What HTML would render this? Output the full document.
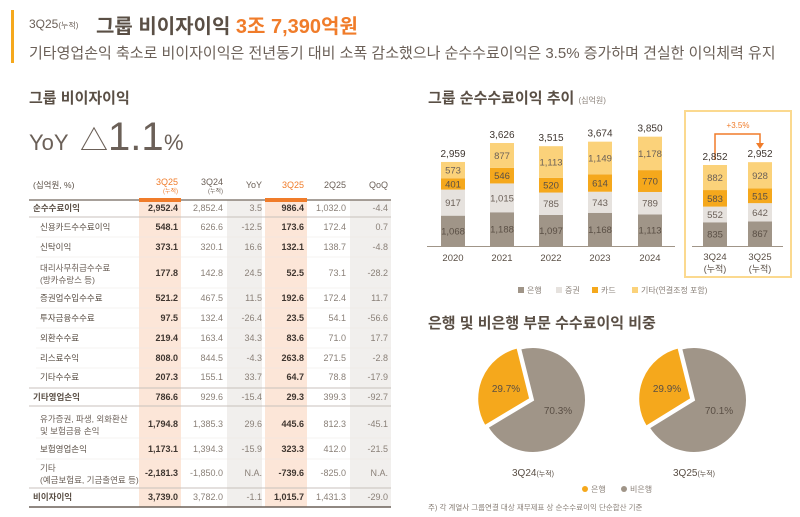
<!DOCTYPE html>
<html><head><meta charset="utf-8"><style>
html,body{margin:0;padding:0;background:#fff;}
svg{display:block;font-family:"Liberation Sans","Noto Sans CJK KR",sans-serif;}
</style></head><body>
<svg id="s" width="800" height="517" viewBox="0 0 800 517" xmlns="http://www.w3.org/2000/svg">
<rect x="11" y="10" width="3" height="53" fill="#f5a81c"/>
<text x="29" y="28" font-size="12" fill="#6b6058">3Q25<tspan font-size="8">(누적)</tspan></text>
<text x="96" y="33" font-size="20" font-weight="bold" fill="#5a4f45">그룹 비이자이익 <tspan fill="#f07c2a">3조 7,390억원</tspan></text>
<text x="29" y="58" font-size="15" fill="#6b6058">기타영업손익 축소로 비이자이익은 전년동기 대비 소폭 감소했으나 순수수료이익은 3.5% 증가하며 견실한 이익체력 유지</text>
<text x="29" y="103" font-size="15" font-weight="bold" fill="#5a4f45">그룹 비이자이익</text>
<text x="29" y="150" font-size="22" fill="#6b6058">YoY</text>
<text x="80" y="150" font-size="28" fill="#6b6058">△</text>
<text x="108" y="150" font-size="40" fill="#6b6058">1.1</text>
<text x="164" y="150" font-size="22" fill="#6b6058">%</text>
<g id="tbl"></g>
<text x="428" y="103" font-size="15" font-weight="bold" fill="#5a4f45">그룹 순수수료이익 추이 <tspan font-size="8" font-weight="normal" fill="#8a8078">(십억원)</tspan></text>
<rect x="685" y="111" width="106" height="166" fill="#fff" stroke="#fbd98f" stroke-width="2"/>
<line x1="427" y1="246.5" x2="675" y2="246.5" stroke="#a09588" stroke-width="1"/>
<line x1="692" y1="246.5" x2="783" y2="246.5" stroke="#a09588" stroke-width="1"/>
<path d="M715 160 V134 H760 V144" fill="none" stroke="#f07c2a" stroke-width="1.5"/>
<path d="M756 143 L764 143 L760 149 Z" fill="#f07c2a"/>
<text x="738" y="128" font-size="8" fill="#f07c2a" text-anchor="middle">+3.5%</text>
<g id="bars"></g>
<g font-size="8" fill="#8a8078">
<rect x="518" y="287" width="6" height="6" fill="#a09588"/><text x="527" y="293">은행</text>
<rect x="556" y="287" width="6" height="6" fill="#e6e2de"/><text x="565" y="293">증권</text>
<rect x="592" y="287" width="6" height="6" fill="#f5a81c"/><text x="601" y="293">카드</text>
<rect x="632" y="287" width="6" height="6" fill="#fbd27a"/><text x="641" y="293">기타(연결조정 포함)</text>
</g>
<text x="428" y="328" font-size="15" font-weight="bold" fill="#5a4f45">은행 및 비은행 부문 수수료이익 비중</text>
<g id="pies"></g>
<text x="533" y="476" font-size="10" fill="#5a4f45" text-anchor="middle">3Q24<tspan font-size="7">(누적)</tspan></text>
<text x="694" y="476" font-size="10" fill="#5a4f45" text-anchor="middle">3Q25<tspan font-size="7">(누적)</tspan></text>
<circle cx="585" cy="489" r="3" fill="#f5a81c"/><text x="591" y="492" font-size="8" fill="#8a8078">은행</text>
<circle cx="624" cy="489" r="3" fill="#a09588"/><text x="630" y="492" font-size="8" fill="#8a8078">비은행</text>
<text x="428" y="510" font-size="7.5" fill="#8a8078">주) 각 계열사 그룹연결 대상 재무제표 상 순수수료이익 단순합산 기준</text>
</svg>
<script>
const NS="http://www.w3.org/2000/svg";
function el(p,t,a,txt){const e=document.createElementNS(NS,t);for(const k in a)e.setAttribute(k,a[k]);if(txt!==undefined)e.textContent=txt;p.appendChild(e);return e;}
const B=document.getElementById('bars');const k=0.0284,base=246;
const cols=['#a09588','#e6e2de','#f5a81c','#fbd27a'];
const tc=['#5a4f45','#6b6058','#5a4f45','#6b6058'];
const data=[[453,'2020',[1068,917,401,573],'2,959'],[502,'2021',[1188,1015,546,877],'3,626'],[551,'2022',[1097,785,520,1113],'3,515'],[600,'2023',[1168,743,614,1149],'3,674'],[650,'2024',[1113,789,770,1178],'3,850'],[715,'3Q24',[835,552,583,882],'2,852'],[760,'3Q25',[867,642,515,928],'2,952']];
data.forEach(d=>{let y=base;const w=24;d[2].forEach((v,i)=>{const h=v*k;y-=h;el(B,'rect',{x:d[0]-w/2,y:y,width:w,height:h,fill:cols[i]});el(B,'text',{x:d[0],y:y+h/2+3.5,'font-size':9.5,fill:tc[i],'text-anchor':'middle'},v.toLocaleString('en-US'));});
el(B,'text',{x:d[0],y:y-5,'font-size':10,fill:'#3f3630','text-anchor':'middle'},d[3]);
if(d[1].startsWith('3Q')){el(B,'text',{x:d[0],y:260,'font-size':9.5,fill:'#5a4f45','text-anchor':'middle'},d[1]);el(B,'text',{x:d[0],y:272,'font-size':9,fill:'#5a4f45','text-anchor':'middle'},'(누적)');}
else el(B,'text',{x:d[0],y:261,'font-size':9.5,fill:'#5a4f45','text-anchor':'middle'},d[1]);});
const P=document.getElementById('pies');
function pt(cx,cy,r,a){const t=a*Math.PI/180;return [cx+r*Math.sin(t),cy-r*Math.cos(t)];}
function pie(cx,cy,bank,lb,lo){const r=53;const a0=346,a1=346-bank*3.6;
let p1=pt(cx,cy,r,a0),p2=pt(cx,cy,r,a1+360);
el(P,'path',{d:`M${cx} ${cy} L${p1[0]} ${p1[1]} A${r} ${r} 0 1 1 ${p2[0]} ${p2[1]} Z`,fill:'#a09588',stroke:'#fff','stroke-width':2});
const mid=(a0+a1)/2;const o=pt(0,0,3,mid);const c2=[cx+o[0],cy+o[1]];
let q1=pt(c2[0],c2[1],r,a1),q2=pt(c2[0],c2[1],r,a0);
el(P,'path',{d:`M${c2[0]} ${c2[1]} L${q1[0]} ${q1[1]} A${r} ${r} 0 0 1 ${q2[0]} ${q2[1]} Z`,fill:'#f5a81c',stroke:'#fff','stroke-width':2});
el(P,'text',{x:cx-27,y:cy-8,'font-size':10,fill:'#5a4f45','text-anchor':'middle'},lb);
el(P,'text',{x:cx+25,y:cy+14,'font-size':10,fill:'#5a4f45','text-anchor':'middle'},lo);}
pie(533,400,29.7,'29.7%','70.3%');pie(694,400,29.9,'29.9%','70.1%');
const T=document.getElementById('tbl');
el(T,'rect',{x:139,y:200,width:42,height:307,fill:'#fce6d8'});
el(T,'rect',{x:227,y:200,width:35,height:307,fill:'#f1efed'});
el(T,'rect',{x:265,y:200,width:42,height:307,fill:'#fce6d8'});
el(T,'rect',{x:350,y:200,width:41,height:307,fill:'#f1efed'});
el(T,'line',{x1:29,y1:200,x2:391,y2:200,stroke:'#8a8078','stroke-width':1.5});
el(T,'rect',{x:139,y:198,width:42,height:4,fill:'#f07c2a'});
el(T,'rect',{x:265,y:198,width:42,height:4,fill:'#f07c2a'});
el(T,'text',{x:33,y:188,'font-size':8.5,fill:'#5a4f45'},'(십억원, %)');
el(T,'text',{x:178,y:185,'font-size':9,fill:'#f07c2a','text-anchor':'end'},'3Q25');
el(T,'text',{x:178,y:193,'font-size':6,fill:'#f07c2a','text-anchor':'end'},'(누적)');
el(T,'text',{x:223,y:185,'font-size':9,fill:'#6b6058','text-anchor':'end'},'3Q24');
el(T,'text',{x:223,y:193,'font-size':6,fill:'#6b6058','text-anchor':'end'},'(누적)');
el(T,'text',{x:262,y:188,'font-size':9,fill:'#6b6058','text-anchor':'end'},'YoY');
el(T,'text',{x:304,y:188,'font-size':9,fill:'#f07c2a','text-anchor':'end'},'3Q25');
el(T,'text',{x:346,y:188,'font-size':9,fill:'#6b6058','text-anchor':'end'},'2Q25');
el(T,'text',{x:388,y:188,'font-size':9,fill:'#6b6058','text-anchor':'end'},'QoQ');
const rows=[
[208,1,['순수수료이익'],'2,952.4','2,852.4','3.5','986.4','1,032.0','-4.4',217,1],
[227,0,['신용카드수수료이익'],'548.1','626.6','-12.5','173.6','172.4','0.7',237],
[247,0,['신탁이익'],'373.1','320.1','16.6','132.1','138.7','-4.8',257],
[273,0,['대리사무취급수수료','(방카슈랑스 등)'],'177.8','142.8','24.5','52.5','73.1','-28.2',288],
[298,0,['증권업수입수수료'],'521.2','467.5','11.5','192.6','172.4','11.7',308],
[318,0,['투자금융수수료'],'97.5','132.4','-26.4','23.5','54.1','-56.6',328],
[338,0,['외환수수료'],'219.4','163.4','34.3','83.6','71.0','17.7',348],
[358,0,['리스료수익'],'808.0','844.5','-4.3','263.8','271.5','-2.8',368],
[377,0,['기타수수료'],'207.3','155.1','33.7','64.7','78.8','-17.9',388,1],
[397,1,['기타영업손익'],'786.6','929.6','-15.4','29.3','399.3','-92.7',406,1],
[424,0,['유가증권, 파생, 외화환산','및 보험금융 손익'],'1,794.8','1,385.3','29.6','445.6','812.3','-45.1',438],
[449,0,['보험영업손익'],'1,173.1','1,394.3','-15.9','323.3','412.0','-21.5',459],
[473,0,['기타','(예금보험료, 기금출연료 등)'],'-2,181.3','-1,850.0','N.A.','-739.6','-825.0','N.A.',488,1],
[497,1,['비이자이익'],'3,739.0','3,782.0','-1.1','1,015.7','1,431.3','-29.0',507,2]];
rows.forEach(r=>{const y=r[0]+3;const lx=r[1]?33:40;
if(r[2].length==1)el(T,'text',{x:lx,y:y,'font-size':8.5,fill:'#5a4f45','font-weight':r[1]?'bold':'normal'},r[2][0]);
else{el(T,'text',{x:lx,y:y-5,'font-size':8.5,fill:'#6b6058'},r[2][0]);el(T,'text',{x:lx,y:y+7,'font-size':8.5,fill:'#6b6058'},r[2][1]);}
const xs=[178,223,262,304,346,388];
for(let i=0;i<6;i++){el(T,'text',{x:xs[i],y:y,'font-size':9,'text-anchor':'end',fill:(i==0||i==3)?'#3f3630':'#8a8078','font-weight':(i==0||i==3)?'bold':'normal'},r[3+i]);}
const lw=r[10]==2?1.5:(r[10]?1:0.6);const lc=r[10]==2?'#6b6058':(r[10]?'#c8c2bc':'#ece8e4');
el(T,'line',{x1:r[10]?29:36,y1:r[9],x2:391,y2:r[9],stroke:lc,'stroke-width':lw});});
</script>
</body></html>
